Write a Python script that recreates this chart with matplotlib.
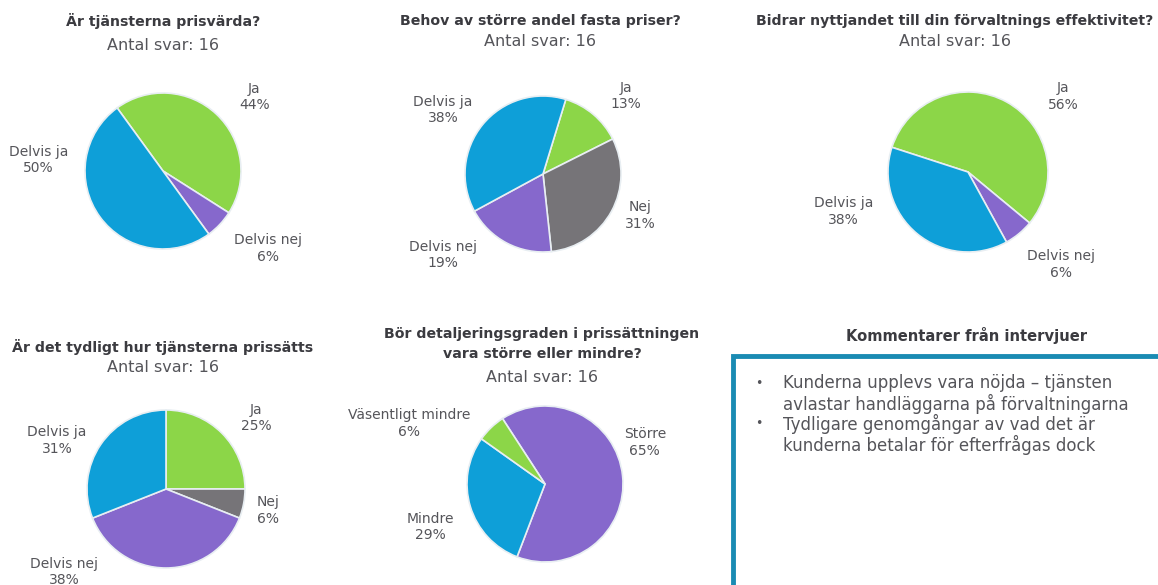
import matplotlib
matplotlib.use('Agg')
import matplotlib.pyplot as plt
from matplotlib.patches import Rectangle

# Enkätsvar (procent) per fråga, i medurs ordning
q1_title = 'Är tjänsterna prisvärda?'
q1_labels = ['Ja', 'Delvis nej', 'Delvis ja']
q1_values = [44, 6, 50]

q2_title = 'Behov av större andel fasta priser?'
q2_labels = ['Ja', 'Nej', 'Delvis nej', 'Delvis ja']
q2_values = [13, 31, 19, 38]

q3_title = 'Bidrar nyttjandet till din förvaltnings effektivitet?'
q3_labels = ['Ja', 'Delvis nej', 'Delvis ja']
q3_values = [56, 6, 38]

q4_title = 'Är det tydligt hur tjänsterna prissätts'
q4_labels = ['Ja', 'Nej', 'Delvis nej', 'Delvis ja']
q4_values = [25, 6, 38, 31]

q5_title = 'Bör detaljeringsgraden i prissättningen\nvara större eller mindre?'
q5_labels = ['Större', 'Mindre', 'Väsentligt mindre']
q5_values = [65, 29, 6]

n_answers = 16

comment_title = 'Kommentarer från intervjuer'
comments = [
    ['Kunderna upplevs vara nöjda – tjänsten', 'avlastar handläggarna på förvaltningarna'],
    ['Tydligare genomgångar av vad det är', 'kunderna betalar för efterfrågas dock'],
]

GREEN = '#8cd648'
BLUE = '#0e9fd8'
PURPLE = '#8668cc'
GREY = '#767478'
colors = {'Ja': GREEN, 'Delvis ja': BLUE, 'Delvis nej': PURPLE, 'Nej': GREY,
          'Större': PURPLE, 'Mindre': BLUE, 'Väsentligt mindre': GREEN}

TITLE_COLOR = '#3b3b40'
TEXT_COLOR = '#55555a'

W, H = 1158, 585
fig = plt.figure(figsize=(W / 100, H / 100), dpi=100)
ax = fig.add_axes([0, 0, 1, 1])


def py(y):
    # pixlar räknas uppifrån
    return H - y


# layout: (titel, etiketter, värden, centrum x, centrum y, radie, startvinkel,
#          titel x, titel y, undertitel y, etikettplaceringar i radier från centrum)
pies = [
    (q1_title, q1_labels, q1_values, 163, 171, 78, 126, 163, 21, 45,
     [(1.17, 0.95), (1.35, -0.99), (-1.60, 0.14)]),
    (q2_title, q2_labels, q2_values, 543, 174, 78, 73, 540, 21, 42,
     [(1.06, 1.0), (1.25, -0.53), (-1.28, -1.04), (-1.28, 0.82)]),
    (q3_title, q3_labels, q3_values, 968, 172, 80, 162, 955, 21, 42,
     [(1.19, 0.94), (1.16, -1.16), (-1.56, -0.49)]),
    (q4_title, q4_labels, q4_values, 166, 489, 79, 90, 163, 347, 367,
     [(1.14, 0.90), (1.29, -0.27), (-1.29, -1.05), (-1.38, 0.61)]),
    (q5_title, q5_labels, q5_values, 545, 484, 78, 123, 542, 344, 377,
     [(1.28, 0.53), (-1.47, -0.55), (-1.74, 0.78)]),
]

for (title, labels, values, cx, cy, r, start, tx, ty, sy,
     label_pos) in pies:
    ax.pie(values, colors=[colors[l] for l in labels], startangle=start,
           counterclock=False, center=(cx, py(cy)), radius=r,
           wedgeprops=dict(edgecolor='#e8eef2', linewidth=1.2))
    ax.text(tx, py(ty), title, ha='center', va='center', fontsize=10.2,
            fontweight='bold', color=TITLE_COLOR, linespacing=1.55)
    ax.text(tx, py(sy), 'Antal svar: %d' % n_answers,
            ha='center', va='center', fontsize=11.5, color=TEXT_COLOR)
    for lab, val, (dx, dy) in zip(labels, values, label_pos):
        ax.text(cx + dx * r, py(cy) + dy * r, '%s\n%d%%' % (lab, val),
                ha='center', va='center', fontsize=10, color=TEXT_COLOR,
                linespacing=1.25)

# kommentarsrutan
ax.text(967, py(335), comment_title, ha='center', va='center', fontsize=10.6,
        fontweight='bold', color=TITLE_COLOR)
ax.add_patch(Rectangle((733, -20), 600, py(356) + 20, fill=False,
                       edgecolor='#1a8bb3', linewidth=3.5))
y = 383
for lines in comments:
    ax.text(755, py(y), '•', ha='left', va='center', fontsize=9, color=TEXT_COLOR)
    for line in lines:
        ax.text(783, py(y), line, ha='left', va='center', fontsize=12,
                color=TEXT_COLOR)
        y += 20.5

ax.set_xlim(0, W)
ax.set_ylim(0, H)
ax.set_aspect('auto')
ax.axis('off')

fig.savefig('out.png', dpi=100)
